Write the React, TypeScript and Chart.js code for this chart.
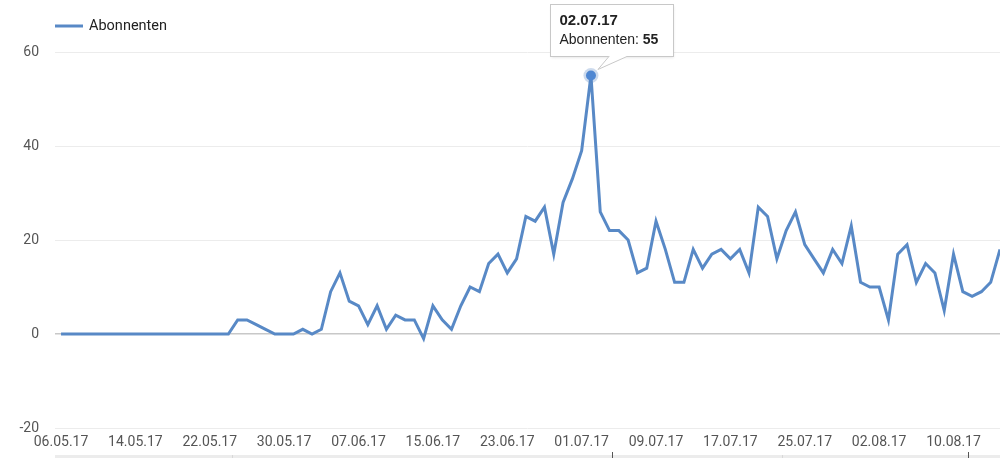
import React, { useEffect, useRef } from "react";
import { Chart, registerables } from "chart.js";

Chart.register(...registerables);

// Daily subscriber values starting 06.05.17
const values: number[] = [
  0, 0, 0, 0, 0, 0, 0, 0, 0, 0, 0, 0, 0, 0, 0, 0, 0, 0, 0, 3,
  3, 2, 1, 0, 0, 0, 1, 0, 1, 9, 13, 7, 6, 2, 6, 1, 4, 3, 3, -1,
  6, 3, 1, 6, 10, 9, 15, 17, 13, 16, 25, 24, 27, 17, 28, 33, 39, 55, 26, 22,
  22, 20, 13, 14, 24, 18, 11, 11, 18, 14, 17, 18, 16, 18, 13, 27, 25, 16, 22, 26,
  19, 16, 13, 18, 15, 23, 11, 10, 10, 3, 17, 19, 11, 15, 13, 5, 17, 9, 8, 9,
  11, 18,
];

const seriesLabel = "Abonnenten";
const startDate = { year: 2017, month: 5, day: 6 };

const tickIndices: number[] = [0, 8, 16, 24, 32, 40, 48, 56, 64, 72, 80, 88, 96];
const tickLabels: string[] = [
  "06.05.17", "14.05.17", "22.05.17", "30.05.17", "07.06.17", "15.06.17", "23.06.17",
  "01.07.17", "09.07.17", "17.07.17", "25.07.17", "02.08.17", "10.08.17",
];
const yTicks: number[] = [-20, 0, 20, 40, 60];

const pad = (n: number) => (n < 10 ? "0" + n : "" + n);
const dates: string[] = values.map((_, i) => {
  const d = new Date(startDate.year, startDate.month - 1, startDate.day + i);
  return `${pad(d.getDate())}.${pad(d.getMonth() + 1)}.${String(d.getFullYear()).slice(2)}`;
});

const LINE = "#5889c6";

export default function App() {
  const ref = useRef<HTMLCanvasElement | null>(null);

  useEffect(() => {
    if (!ref.current) return;
    const peakIdx = values.indexOf(Math.max(...values));

    const overlay = {
      id: "overlay",
      afterDraw(chart: any) {
        const ctx = chart.ctx as CanvasRenderingContext2D;
        const area = chart.chartArea;
        ctx.save();
        // legend
        ctx.strokeStyle = LINE;
        ctx.lineWidth = 3;
        ctx.beginPath();
        ctx.moveTo(area.left, 26);
        ctx.lineTo(area.left + 28, 26);
        ctx.stroke();
        ctx.fillStyle = "#222";
        ctx.font = "14.5px Roboto";
        ctx.textBaseline = "middle";
        ctx.textAlign = "left";
        ctx.fillText(seriesLabel, area.left + 34, 26);

        // range bar at bottom
        ctx.fillStyle = "#ececec";
        ctx.fillRect(area.left, 455, area.right - area.left, 3);
        ctx.fillStyle = "#d8d8d8";
        ctx.fillRect(232, 455, 1, 3);
        ctx.fillRect(782, 455, 1, 3);
        ctx.fillStyle = "#555";
        ctx.fillRect(612, 452, 1, 6);
        ctx.fillRect(968, 452, 1, 6);

        // highlighted point
        const pt = chart.getDatasetMeta(0).data[peakIdx];
        const px = pt.x;
        const py = pt.y;
        ctx.fillStyle = "rgba(85,134,196,0.3)";
        ctx.beginPath();
        ctx.arc(px, py, 7.5, 0, Math.PI * 2);
        ctx.fill();
        ctx.fillStyle = "#4f87d2";
        ctx.beginPath();
        ctx.arc(px, py, 5, 0, Math.PI * 2);
        ctx.fill();

        // tooltip
        const bx = Math.round(px - 41) + 0.5;
        const by = 4.5;
        const bw = 123;
        const bh = 52;
        ctx.shadowColor = "rgba(0,0,0,0.12)";
        ctx.shadowBlur = 3;
        ctx.shadowOffsetY = 1;
        ctx.fillStyle = "#fff";
        ctx.fillRect(bx, by, bw, bh);
        ctx.shadowColor = "transparent";
        ctx.strokeStyle = "#c8c8c8";
        ctx.lineWidth = 1;
        ctx.strokeRect(bx, by, bw, bh);
        // tail
        const b1 = px + 18;
        const b2 = px + 36;
        const tipX = px + 7;
        const tipY = py - 6;
        ctx.fillStyle = "#fff";
        ctx.beginPath();
        ctx.moveTo(b1, by + bh);
        ctx.lineTo(tipX, tipY);
        ctx.lineTo(b2, by + bh);
        ctx.closePath();
        ctx.fill();
        ctx.fillRect(b1 + 0.5, by + bh - 0.5, b2 - b1 - 1, 1.5);
        ctx.beginPath();
        ctx.moveTo(b1, by + bh);
        ctx.lineTo(tipX, tipY);
        ctx.lineTo(b2, by + bh);
        ctx.stroke();
        // tooltip text
        ctx.textBaseline = "alphabetic";
        ctx.fillStyle = "#222";
        ctx.font = "bold 15px 'Liberation Sans', Arial";
        ctx.fillText(dates[peakIdx], bx + 9, 25);
        ctx.font = "14px 'Liberation Sans', Arial";
        const lab = seriesLabel + ": ";
        ctx.fillText(lab, bx + 9, 44);
        const w = ctx.measureText(lab).width;
        ctx.font = "bold 14px 'Liberation Sans', Arial";
        ctx.fillText(String(values[peakIdx]), bx + 9 + w, 44);
        ctx.restore();
      },
    };

    const chart = new Chart(ref.current, {
      type: "line",
      data: {
        datasets: [
          {
            label: seriesLabel,
            data: values.map((v, i) => ({ x: i, y: v })),
            borderColor: LINE,
            backgroundColor: LINE,
            borderWidth: 3,
            pointRadius: 0,
            tension: 0,
            fill: false,
          },
        ],
      },
      options: {
        responsive: false,
        animation: false,
        layout: { padding: { top: 52, left: 0, right: 0, bottom: 0 } },
        plugins: {
          legend: { display: false },
          tooltip: { enabled: false },
        },
        scales: {
          x: {
            type: "linear",
            min: -0.65,
            max: values.length - 1,
            grid: { display: false, drawTicks: false },
            border: { display: false },
            afterBuildTicks: (scale: any) => {
              scale.ticks = tickIndices.map((v) => ({ value: v }));
            },
            afterFit: (scale: any) => {
              scale.height = 30;
            },
            ticks: {
              autoSkip: false,
              maxRotation: 0,
              padding: 6,
              color: "#555",
              font: { family: "Roboto", size: 14 },
              callback: (v: any) => {
                const k = tickIndices.indexOf(Number(v));
                return k >= 0 ? tickLabels[k] : "";
              },
            },
          },
          y: {
            min: yTicks[0],
            max: yTicks[yTicks.length - 1],
            afterBuildTicks: (scale: any) => {
              scale.ticks = yTicks.map((v) => ({ value: v }));
            },
            afterFit: (scale: any) => {
              scale.width = 55;
            },
            border: { display: false },
            grid: {
              drawTicks: false,
              color: (c: any) => (c.tick && c.tick.value === 0 ? "#c8c8c8" : "#ececec"),
              lineWidth: (c: any) => (c.tick && c.tick.value === 0 ? 1.5 : 1),
            },
            ticks: {
              padding: 16,
              color: "#555",
              font: { family: "Roboto", size: 14 },
            },
          },
        },
      },
      plugins: [overlay],
    } as any);

    return () => chart.destroy();
  }, []);

  return (
    <div style={{ position: "fixed", left: 0, top: 0, width: 1000, height: 458, background: "#fff" }}>
      <canvas ref={ref} width={1000} height={458} style={{ display: "block", width: 1000, height: 458 }} />
    </div>
  );
}
